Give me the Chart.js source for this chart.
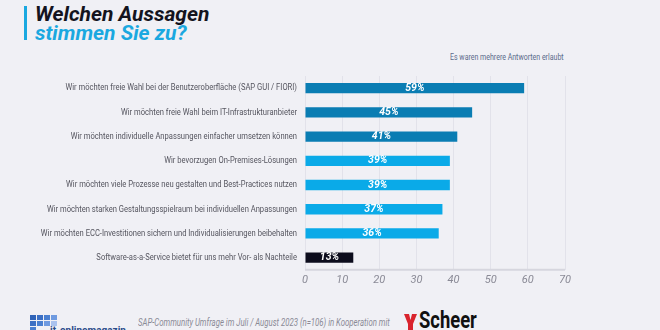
<!DOCTYPE html>
<html>
<head>
<meta charset="utf-8">
<script src="https://cdn.jsdelivr.net/npm/chart.js@4"></script>
<style>
  body { margin: 0; background: #f0f0f5; width: 660px; height: 330px; overflow: hidden; position: relative; font-family: Roboto, sans-serif; }
  .bar { position: absolute; left: 24px; top: 6px; width: 3px; height: 34px; background: #1aa8e0; }
  .t1, .t2 { position: absolute; left: 35px; font-size: 21px; font-weight: bold; font-style: italic; line-height: 22px; }
  .t1 { top: 3px; color: #14141e; }
  .t2 { top: 22px; color: #1aa8e0; }
  .sub { position: absolute; left: 450px; top: 52px; font-size: 9px; color: #5a6a8a; transform: scaleX(0.78); transform-origin: left top; white-space: nowrap; }
  #wrap { position: absolute; left: 0; top: 63px; width: 600px; height: 228px; }
  .foot { position: absolute; left: 138px; top: 317px; font-size: 10px; font-style: italic; color: #8a8a96; transform: scaleX(0.78); transform-origin: left top; white-space: nowrap; }
  .sq { position: absolute; width: 6px; height: 5px; }
  .itom { position: absolute; left: 50px; top: 325px; font-size: 10px; font-weight: bold; color: #2a4a8a; }
  .scheer { position: absolute; left: 419px; top: 307px; font-size: 23px; font-weight: bold; color: #111; transform: scaleX(0.8); transform-origin: left top; }
</style>
</head>
<body>
<div class="bar"></div>
<div class="t1">Welchen Aussagen</div>
<div class="t2">stimmen Sie zu?</div>
<div class="sub">Es waren mehrere Antworten erlaubt</div>
<div id="wrap"><canvas id="c"></canvas></div>
<div class="foot">SAP-Community Umfrage im Juli / August 2023 (n=106) in Kooperation mit</div>
<div id="logo"></div>
<div class="itom">it-onlinemagazin</div>
<svg style="position:absolute;left:404px;top:314px" width="13" height="17"><path d="M0 0 L5 0 L6.5 6 L8 0 L13 0 L9 10 L9 17 L4 17 L4 10 Z" fill="#d9232d"/></svg>
<div class="scheer">Scheer</div>
<script>
// Werte
const labels = [
  'Wir möchten freie Wahl bei der Benutzeroberfläche (SAP GUI / FIORI)',
  'Wir möchten freie Wahl beim IT-Infrastrukturanbieter',
  'Wir möchten individuelle Anpassungen einfacher umsetzen können',
  'Wir bevorzugen On-Premises-Lösungen',
  'Wir möchten viele Prozesse neu gestalten und Best-Practices nutzen',
  'Wir möchten starken Gestaltungsspielraum bei individuellen Anpassungen',
  'Wir möchten ECC-Investitionen sichern und Individualisierungen beibehalten',
  'Software-as-a-Service bietet für uns mehr Vor- als Nachteile'
];
const values = [59, 45, 41, 39, 39, 37, 36, 13];
const barColors = ['#0a7db3', '#0a7db3', '#0a7db3', '#0aaae8', '#0aaae8', '#0aaae8', '#0aaae8', '#0c0c1c'];

// kleines Logo links unten
const logo = document.getElementById('logo');
const blues = ['#2f63b8', '#3b6fc4', '#4a7fd0', '#6f9ae0', '#a9c2ee'];
for (let r = 0; r < 3; r++) {
  for (let c = 0; c < 4; c++) {
    if (r === 2 && c > 0) continue;
    const d = document.createElement('div');
    d.className = 'sq';
    d.style.left = (30 + c * 7) + 'px';
    d.style.top = (315 + r * 6) + 'px';
    d.style.background = blues[(c + r) % 5];
    logo.appendChild(d);
  }
}

// schmale Kategorie-Beschriftung links
const catLabels = {
  id: 'catLabels',
  afterDraw(chart) {
    const ctx = chart.ctx;
    const y = chart.scales.y;
    const x = chart.chartArea.left - 8;
    ctx.save();
    ctx.fillStyle = '#55555f';
    ctx.font = '9.5px Roboto, sans-serif';
    ctx.textAlign = 'right';
    ctx.textBaseline = 'middle';
    labels.forEach((t, i) => {
      ctx.save();
      ctx.translate(x, y.getPixelForTick(i));
      ctx.scale(0.8, 1);
      ctx.fillText(t, 0, 0);
      ctx.restore();
    });
    ctx.restore();
  }
};

const valueLabels = {
  id: 'valueLabels',
  afterDatasetsDraw(chart) {
    const ctx = chart.ctx;
    const meta = chart.getDatasetMeta(0);
    ctx.save();
    ctx.fillStyle = '#ffffff';
    ctx.font = 'italic bold 10.5px Roboto, sans-serif';
    ctx.textAlign = 'center';
    ctx.textBaseline = 'middle';
    meta.data.forEach((bar, i) => {
      const x = (bar.base + bar.x) / 2;
      ctx.fillText(values[i] + '%', x, bar.y);
    });
    ctx.restore();
  }
};

new Chart(document.getElementById('c'), {
  type: 'bar',
  data: {
    labels: labels,
    datasets: [{
      data: values,
      backgroundColor: barColors,
      barPercentage: 0.85,
      categoryPercentage: 0.5
    }]
  },
  options: {
    indexAxis: 'y',
    responsive: true,
    maintainAspectRatio: false,
    animation: false,
    layout: { padding: { top: 13, right: 35, left: 0, bottom: 0 } },
    plugins: { legend: { display: false }, tooltip: { enabled: false } },
    scales: {
      x: {
        min: 0, max: 70,
        ticks: { stepSize: 10, color: '#8a8a96', font: { size: 11, style: 'italic', family: 'Roboto' }, padding: 4 },
        grid: { color: '#e2e2ea', drawTicks: false },
        border: { display: false }
      },
      y: {
        afterFit(s) { s.width = 305; },
        ticks: { display: false },
        grid: { display: false },
        border: { color: '#e2e2ea', width: 1 }
      }
    }
  },
  plugins: [valueLabels, catLabels, {
    id: 'bottomLine',
    afterDraw(chart) {
      const a = chart.chartArea, ctx = chart.ctx;
      ctx.save();
      ctx.strokeStyle = '#d6d6de';
      ctx.lineWidth = 2;
      ctx.beginPath();
      ctx.moveTo(a.left, a.bottom);
      ctx.lineTo(a.right, a.bottom);
      ctx.stroke();
      ctx.restore();
    }
  }]
});
</script>
</body>
</html>
